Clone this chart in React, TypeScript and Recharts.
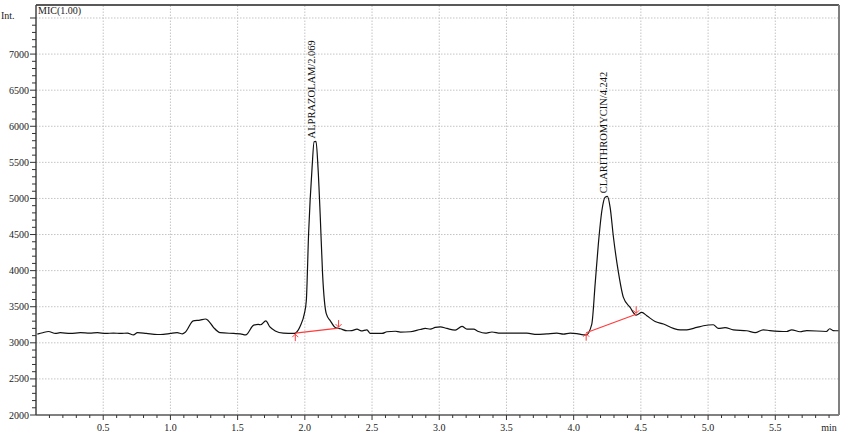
import { ComposedChart, Line, XAxis, YAxis, ReferenceLine } from "recharts";

const times = [
  0.01, 0.05, 0.093, 0.145, 0.18, 0.256, 0.33, 0.4, 0.457, 0.52, 0.576, 0.63, 0.68, 0.725, 0.755, 0.82, 0.903,
  0.948, 1.0, 1.05, 1.09, 1.11, 1.17, 1.22, 1.26, 1.28, 1.32, 1.37, 1.47, 1.52, 1.56, 1.62, 1.654, 1.67, 1.71,
  1.74, 1.78, 1.84, 1.916, 1.929, 1.967, 1.996, 2.011, 2.028, 2.054, 2.069, 2.083, 2.098, 2.115, 2.132, 2.16,
  2.19, 2.227, 2.264, 2.314, 2.35, 2.388, 2.42, 2.462, 2.487, 2.574, 2.611, 2.673, 2.71, 2.784, 2.859, 2.896,
  2.933, 2.97, 3.007, 3.057, 3.119, 3.169, 3.206, 3.255, 3.292, 3.342, 3.392, 3.454, 3.552, 3.652, 3.726,
  3.801, 3.875, 3.924, 3.974, 4.024, 4.073, 4.093, 4.135, 4.16, 4.184, 4.21, 4.234, 4.251, 4.271, 4.296, 4.333,
  4.37, 4.42, 4.465, 4.507, 4.544, 4.606, 4.668, 4.742, 4.792, 4.842, 4.916, 4.965, 5.039, 5.077, 5.126,
  5.188, 5.288, 5.35, 5.41, 5.46, 5.585, 5.622, 5.684, 5.734, 5.88, 5.905, 5.93, 5.97,
];
const intensity = [
  3120, 3140, 3157, 3130, 3140, 3130, 3140, 3135, 3140, 3130, 3135, 3130, 3135, 3110, 3140, 3130, 3115,
  3118, 3130, 3140, 3125, 3145, 3305, 3315, 3330, 3310, 3215, 3140, 3130, 3125, 3110, 3245, 3255, 3250, 3305,
  3220, 3165, 3135, 3130, 3134, 3236, 3400, 3583, 4510, 5430, 5785, 5790, 5430, 4740, 3955, 3400,
  3305, 3213, 3195, 3167, 3170, 3190, 3165, 3180, 3130, 3130, 3153, 3160, 3148, 3153, 3185, 3199,
  3190, 3213, 3222, 3199, 3176, 3227, 3190, 3190, 3157, 3134, 3150, 3134, 3134, 3134, 3116,
  3125, 3134, 3120, 3134, 3127, 3111, 3111, 3260, 3820, 4375, 4833, 5018, 5028, 4880, 4462, 3976,
  3629, 3490, 3384, 3421, 3375, 3296, 3260, 3200, 3180, 3180, 3213, 3236, 3250, 3199, 3210,
  3180, 3167, 3140, 3180, 3170, 3157, 3180, 3153, 3170, 3157, 3195, 3170, 3167,
];

const peakNames = ["ALPRAZOLAM/2.069", "CLARITHROMYCIN/4.242"];
const peakTimes = [2.069, 4.242];
const peakHeights = [5790, 5030];

// integration baselines: [start t, start int, end t, end int]
const baselines = [
  [1.929, 3134, 2.251, 3204],
  [4.093, 3140, 4.465, 3395],
];

const yMajor = [2000, 2500, 3000, 3500, 4000, 4500, 5000, 5500, 6000, 6500, 7000, 7500];
const xMajor = [0.5, 1.0, 1.5, 2.0, 2.5, 3.0, 3.5, 4.0, 4.5, 5.0, 5.5];

// minor ticks: every 100 on intensity, every 0.1 min on time
const yTicks: number[] = [];
for (let v = 2000; v <= 7500; v += 100) yTicks.push(v);
const xTicks: number[] = [];
for (let i = 1; i <= 59; i++) xTicks.push(i / 10);

const trace = times.map((t, i) => ({ t, v: intensity[i] }));
const peaks = peakTimes.map((t, i) => ({ t, v: peakHeights[i], name: peakNames[i] }));

const FONT = "'Liberation Serif', 'Times New Roman', serif";

const YTick = (props: any) => {
  const { x, y, payload } = props;
  const v = payload.value;
  const major = v % 500 === 0;
  return (
    <g>
      <line x1={x - (major ? 6 : 4)} x2={x} y1={y} y2={y} stroke="#333" strokeWidth={1} />
      {major && v !== 7500 && (
        <text x={x - 7} y={y + 3.5} textAnchor="end" fontSize={10} fontFamily={FONT} fill="#222">
          {v}
        </text>
      )}
      {v === 7500 && (
        <text x={1} y={y + 1} textAnchor="start" fontSize={10} fontFamily={FONT} fill="#222">
          Int.
        </text>
      )}
    </g>
  );
};

const XTick = (props: any) => {
  const { x, y, payload } = props;
  const v = payload.value;
  const major = Math.abs(v * 2 - Math.round(v * 2)) < 1e-6;
  const isLast = Math.abs(v - 5.9) < 1e-6;
  return (
    <g>
      <line x1={x} x2={x} y1={y} y2={y + (major ? 5 : 3)} stroke="#333" strokeWidth={1} />
      {major && (
        <text x={x} y={y + 16} textAnchor="middle" fontSize={10} fontFamily={FONT} fill="#222">
          {v.toFixed(1)}
        </text>
      )}
      {isLast && (
        <text x={x} y={y + 16} textAnchor="middle" fontSize={10} fontFamily={FONT} fill="#222">
          min
        </text>
      )}
    </g>
  );
};

const PeakLabel = (props: any) => {
  const { cx, cy, payload } = props;
  if (cx == null || cy == null) return null;
  const x = cx + 1;
  const y = cy - 3;
  return (
    <text
      key={payload.name}
      x={x}
      y={y}
      transform={`rotate(-90 ${x} ${y})`}
      textAnchor="start"
      fontSize={10.5}
      fontFamily={FONT}
      fill="#111"
    >
      {payload.name}
    </text>
  );
};

const Marker = (props: any) => {
  const { cx, cy, index } = props;
  if (cx == null || cy == null) return null;
  if (index === 0) {
    return (
      <path
        key={`m${index}`}
        d={`M${cx},${cy + 8} L${cx},${cy + 1} M${cx - 3},${cy + 4} L${cx},${cy + 1} L${cx + 3},${cy + 4}`}
        stroke="#ff3b3b"
        strokeWidth={1}
        fill="none"
      />
    );
  }
  return (
    <path
      key={`m${index}`}
      d={`M${cx},${cy - 8} L${cx},${cy - 1} M${cx - 3},${cy - 4} L${cx},${cy - 1} L${cx + 3},${cy - 4}`}
      stroke="#ff3b3b"
      strokeWidth={1}
      fill="none"
    />
  );
};

export default function App() {
  return (
    <div style={{ position: "absolute", left: 0, top: 0, width: 862, height: 434, background: "#fff" }}>
      <ComposedChart width={862} height={434} margin={{ top: 5, right: 23, bottom: 0, left: 0 }}>
        <XAxis
          dataKey="t"
          type="number"
          domain={[0, 5.974]}
          ticks={xTicks}
          interval={0}
          tick={<XTick />}
          tickLine={false}
          tickSize={0}
          tickMargin={0}
          height={19}
          axisLine={{ stroke: "#808080", strokeWidth: 2 }}
          allowDataOverflow
        />
        <YAxis
          type="number"
          domain={[2000, 7680]}
          ticks={yTicks}
          interval={0}
          tick={<YTick />}
          tickLine={false}
          tickSize={0}
          tickMargin={0}
          width={36}
          axisLine={{ stroke: "#444", strokeWidth: 1.5 }}
          allowDataOverflow
        />
        {yMajor.slice(1).map((v) => (
          <ReferenceLine key={`h${v}`} y={v} stroke="#c4c4c4" strokeDasharray="1.5 1.5" />
        ))}
        {xMajor.map((v) => (
          <ReferenceLine key={`v${v}`} x={v} stroke="#c4c4c4" strokeDasharray="1.5 1.5" />
        ))}
        <ReferenceLine y={7680} stroke="#222" strokeWidth={1.5} />
        <ReferenceLine x={5.974} stroke="#808080" strokeWidth={2} />
        <Line
          data={trace}
          dataKey="v"
          type="monotone"
          stroke="#111"
          strokeWidth={1.2}
          dot={false}
          activeDot={false}
          isAnimationActive={false}
        />
        {baselines.map((b, i) => (
          <Line
            key={`b${i}`}
            data={[
              { t: b[0], v: b[1] },
              { t: b[2], v: b[3] },
            ]}
            dataKey="v"
            type="linear"
            stroke="#ff3b3b"
            strokeWidth={1.2}
            dot={<Marker />}
            activeDot={false}
            isAnimationActive={false}
          />
        ))}
        <Line
          data={peaks}
          dataKey="v"
          stroke="none"
          dot={<PeakLabel />}
          activeDot={false}
          isAnimationActive={false}
        />
      </ComposedChart>
      <span
        style={{
          position: "absolute",
          left: 38,
          top: 5,
          fontFamily: FONT,
          fontSize: 10,
          color: "#222",
          lineHeight: "12px",
        }}
      >
        MIC(1.00)
      </span>
    </div>
  );
}
